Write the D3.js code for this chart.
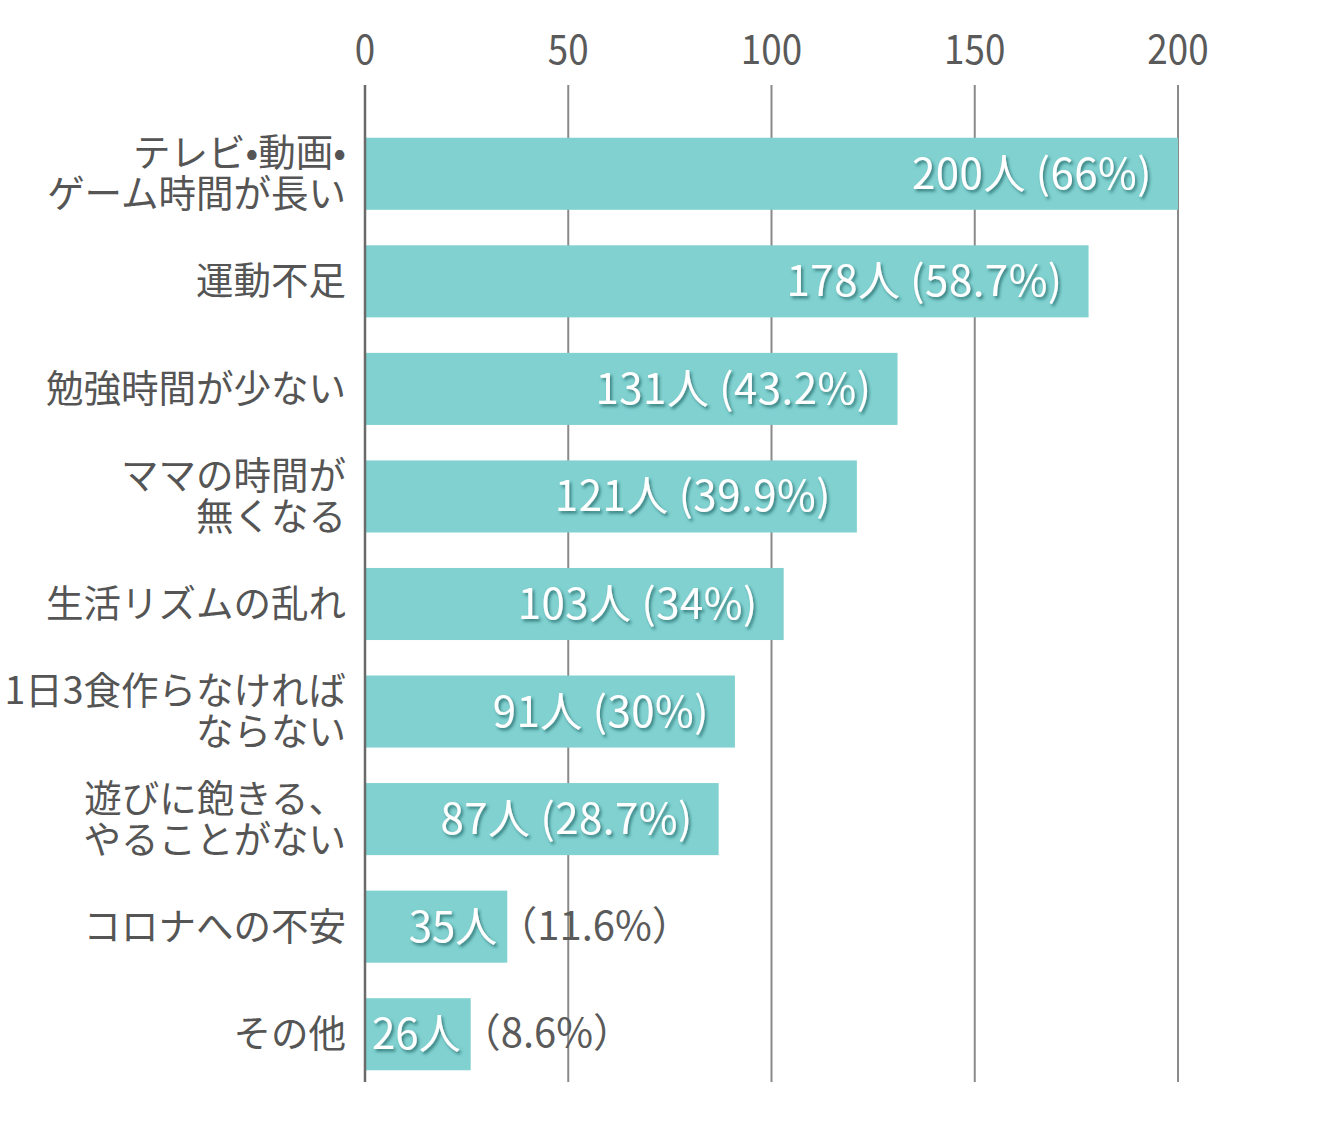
<!DOCTYPE html>
<html>
<head>
<meta charset="utf-8">
<script src="https://cdn.jsdelivr.net/npm/d3@7"></script>
<style>
body { margin: 0; background: #fff; }
text { font-family: "Noto Sans CJK JP", "Noto Sans", sans-serif; }
</style>
</head>
<body>
<div id="chart"></div>
<script>
const categories = [
	["テレビ•動画•", "ゲーム時間が長い"],
	["運動不足"],
	["勉強時間が少ない"],
	["ママの時間が", "無くなる"],
	["生活リズムの乱れ"],
	["1日3食作らなければ", "ならない"],
	["遊びに飽きる、", "やることがない"],
	["コロナへの不安"],
	["その他"]
]
const counts = [200, 178, 131, 121, 103, 91, 87, 35, 26]
const percents = ["66%", "58.7%", "43.2%", "39.9%", "34%", "30%", "28.7%", "11.6%", "8.6%"]
const ticks = [0, 50, 100, 150, 200]

const width = 1332, height = 1140

var svg = d3.select("#chart").append("svg")
	.attr("width", width)
	.attr("height", height)

var defs = svg.append("defs")
var f = defs.append("filter").attr("id", "shadow")
	.attr("x", "-10%").attr("y", "-20%").attr("width", "130%").attr("height", "150%")
f.append("feDropShadow")
	.attr("dx", 2).attr("dy", 2.5)
	.attr("stdDeviation", 1.6)
	.attr("flood-color", "#1f5f5e")
	.attr("flood-opacity", 0.7)

var x = d3.scaleLinear().domain([0, 200]).range([365, 1178])
var y = d3.scaleBand()
	.domain(d3.range(counts.length))
	.range([120, 1088])
	.paddingInner(0.33)
	.paddingOuter(0.165)

// gridlines
svg.selectAll(".grid")
	.data(ticks.slice(1))
	.enter().append("line")
	.attr("x1", function(d){ return x(d) })
	.attr("x2", function(d){ return x(d) })
	.attr("y1", 85)
	.attr("y2", 1082)
	.attr("stroke", "#8a8a8a")
	.attr("stroke-width", 2)

// tick labels on top
svg.selectAll(".tick")
	.data(ticks)
	.enter().append("g")
	.attr("transform", function(d){ return "translate(" + x(d) + ",64) scale(0.92,1)" })
	.append("text")
	.attr("text-anchor", "middle")
	.attr("font-size", 40)
	.attr("fill", "#5a5a5a")
	.text(function(d){ return d })

// bars
svg.selectAll(".bar")
	.data(counts)
	.enter().append("rect")
	.attr("x", x(0))
	.attr("y", function(d, i){ return y(i) })
	.attr("width", function(d){ return x(d) - x(0) })
	.attr("height", y.bandwidth())
	.attr("fill", "#80d1d0")

// axis line
svg.append("line")
	.attr("x1", x(0)).attr("x2", x(0))
	.attr("y1", 85).attr("y2", 1082)
	.attr("stroke", "#6a6a6a")
	.attr("stroke-width", 2.5)

// category labels
categories.forEach(function(lines, i){
	var cy = y(i) + y.bandwidth() / 2
	var t = svg.append("text")
		.attr("text-anchor", "end")
		.attr("font-size", 37.5)
		.attr("fill", "#555")
	lines.forEach(function(l, j){
		t.append("tspan")
			.attr("x", 346)
			.attr("y", cy + 13 + (j - (lines.length - 1) / 2) * 41)
			.text(l)
	})
})

// value labels
counts.forEach(function(d, i){
	var cy = y(i) + y.bandwidth() / 2 + 15
	var inside = d > 50
	var lab = svg.append("text")
		.attr("text-anchor", "end")
		.attr("font-size", 42)
		.attr("fill", "#fff")
		.attr("filter", "url(#shadow)")
	if(inside){
		lab.attr("x", x(d) - 26).attr("y", cy)
			.attr("letter-spacing", 0.5)
			.text(d + "人 (" + percents[i] + ")")
	}else{
		lab.attr("x", x(d) - 10).attr("y", cy)
			.text(d + "人")
		svg.append("text")
			.attr("x", x(d) - 10)
			.attr("y", cy - 2)
			.attr("font-size", 40)
			.attr("fill", "#5a5a5a")
			.text("（" + percents[i] + "）")
	}
})
</script>
</body>
</html>
